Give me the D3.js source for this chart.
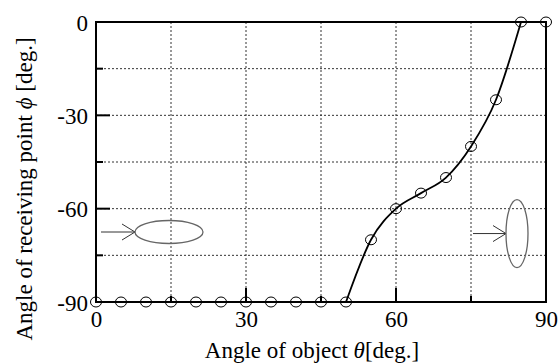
<!DOCTYPE html>
<html>
<head>
<meta charset="utf-8">
<script src="https://cdn.jsdelivr.net/npm/d3@7"></script>
<style>
  body { margin: 0; background: #fff; }
  svg text { font-family: "Liberation Serif", "Times New Roman", Times, serif; fill: #000; }
</style>
</head>
<body>
<svg id="chart" width="560" height="363"></svg>
<script>
// angle of object (deg) and angle of receiving point (deg)
var theta = [0, 5, 10, 15, 20, 25, 30, 35, 40, 45, 50, 55, 60, 65, 70, 75, 80, 85, 90];
var phi   = [-90, -90, -90, -90, -90, -90, -90, -90, -90, -90, -90, -70, -60, -55, -50, -40, -25, 0, 0];
var xTicks = [0, 30, 60, 90];
var yTicks = [0, -30, -60, -90];
var xGrid = [15, 30, 45, 60, 75];
var yGrid = [-15, -30, -45, -60, -75];

var margin = {top: 22, right: 14, bottom: 61, left: 96},
    width = 560, height = 363,
    innerwidth = width - margin.left - margin.right,
    innerheight = height - margin.top - margin.bottom;

var serif = "'Liberation Serif', 'Times New Roman', Times, serif";

var svg = d3.select("#chart");
var g = svg.append("g")
    .attr("transform", "translate(" + margin.left + "," + margin.top + ")");

var xScale = d3.scaleLinear().domain([0, 90]).range([0, innerwidth]);
var yScale = d3.scaleLinear().domain([-90, 0]).range([innerheight, 0]);

// dotted grid
g.append("g").selectAll("line").data(xGrid).enter().append("line")
    .attr("x1", function(d) { return xScale(d); })
    .attr("x2", function(d) { return xScale(d); })
    .attr("y1", 0).attr("y2", innerheight)
    .attr("stroke", "#333").attr("stroke-width", 1)
    .attr("stroke-dasharray", "2,2");
g.append("g").selectAll("line").data(yGrid).enter().append("line")
    .attr("y1", function(d) { return yScale(d); })
    .attr("y2", function(d) { return yScale(d); })
    .attr("x1", 0).attr("x2", innerwidth)
    .attr("stroke", "#333").attr("stroke-width", 1)
    .attr("stroke-dasharray", "2,2");

// inner ticks: long at labelled values, short at the others
g.append("g").selectAll("line").data(d3.range(0, 91, 15)).enter().append("line")
    .attr("x1", function(d) { return xScale(d); })
    .attr("x2", function(d) { return xScale(d); })
    .attr("y1", innerheight)
    .attr("y2", function(d) { return innerheight - (d % 30 === 0 ? 14 : 6); })
    .attr("stroke", "#000").attr("stroke-width", 2);
g.append("g").selectAll("line").data(d3.range(-90, 1, 15)).enter().append("line")
    .attr("y1", function(d) { return yScale(d); })
    .attr("y2", function(d) { return yScale(d); })
    .attr("x1", 0)
    .attr("x2", function(d) { return d % 30 === 0 ? 14 : 7; })
    .attr("stroke", "#000").attr("stroke-width", 2);

// frame
g.append("rect")
    .attr("width", innerwidth).attr("height", innerheight)
    .attr("fill", "none").attr("stroke", "#000").attr("stroke-width", 2);

// tick labels (plain hyphen for negatives, as in the original)
var fmt = function(d) { return String(d); };
var xAxis = d3.axisBottom(xScale).tickValues(xTicks).tickSize(0).tickPadding(9).tickFormat(fmt);
var yAxis = d3.axisLeft(yScale).tickValues(yTicks).tickSize(0).tickPadding(8).tickFormat(fmt);
var gx = g.append("g").attr("transform", "translate(0," + innerheight + ")").call(xAxis);
var gy = g.append("g").call(yAxis);
[gx, gy].forEach(function(a) {
    a.attr("font-family", serif).attr("font-size", 23);
    a.select(".domain").remove();
    a.selectAll("text").attr("fill", "#000");
});
gy.selectAll("text").attr("dy", "0.36em");

// data line (smooth) and markers
var risingIdx = d3.range(10, 18);
g.append("path")
    .datum(risingIdx.map(function(i) { return phi[i]; }))
    .attr("fill", "none").attr("stroke", "#000").attr("stroke-width", 1.8)
    .attr("d", d3.line()
        .curve(d3.curveMonotoneX)
        .x(function(d, i) { return xScale(theta[risingIdx[i]]); })
        .y(function(d) { return yScale(d); }));

g.append("g").selectAll("ellipse").data(phi).enter().append("ellipse")
    .attr("cx", function(d, i) { return xScale(theta[i]); })
    .attr("cy", function(d) { return yScale(d); })
    .attr("rx", 5.5).attr("ry", 5)
    .attr("fill", "none").attr("stroke", "#000").attr("stroke-width", 1);

// object sketches with incident arrows
function arrow(x1, x2, y) {
    g.append("line").attr("x1", x1).attr("x2", x2).attr("y1", y).attr("y2", y)
        .attr("stroke", "#333").attr("stroke-width", 1);
    g.append("path")
        .attr("d", "M" + (x2 - 13) + "," + (y - 8) + "L" + x2 + "," + y + "L" + (x2 - 13) + "," + (y + 8))
        .attr("fill", "none").attr("stroke", "#333").attr("stroke-width", 1);
}
arrow(xScale(1), xScale(7.8), yScale(-67.5));
g.append("ellipse")
    .attr("cx", xScale(14.6)).attr("cy", yScale(-67.5))
    .attr("rx", 34).attr("ry", 11.5)
    .attr("fill", "none").attr("stroke", "#666").attr("stroke-width", 1.3);
arrow(xScale(75.4), xScale(82), yScale(-68));
g.append("ellipse")
    .attr("cx", xScale(84.2)).attr("cy", yScale(-68))
    .attr("rx", 11).attr("ry", 34)
    .attr("fill", "none").attr("stroke", "#666").attr("stroke-width", 1.3);

// axis titles
svg.append("text")
    .attr("x", 312).attr("y", 358)
    .attr("text-anchor", "middle").attr("font-family", serif).attr("font-size", 23)
    .html("Angle of object <tspan font-style='italic'>θ</tspan>[deg.]");
svg.append("text")
    .attr("transform", "translate(32,189) rotate(-90)")
    .attr("text-anchor", "middle").attr("font-family", serif).attr("font-size", 23)
    .html("Angle of receiving point <tspan font-style='italic'>ϕ</tspan> [deg.]");
</script>
</body>
</html>
